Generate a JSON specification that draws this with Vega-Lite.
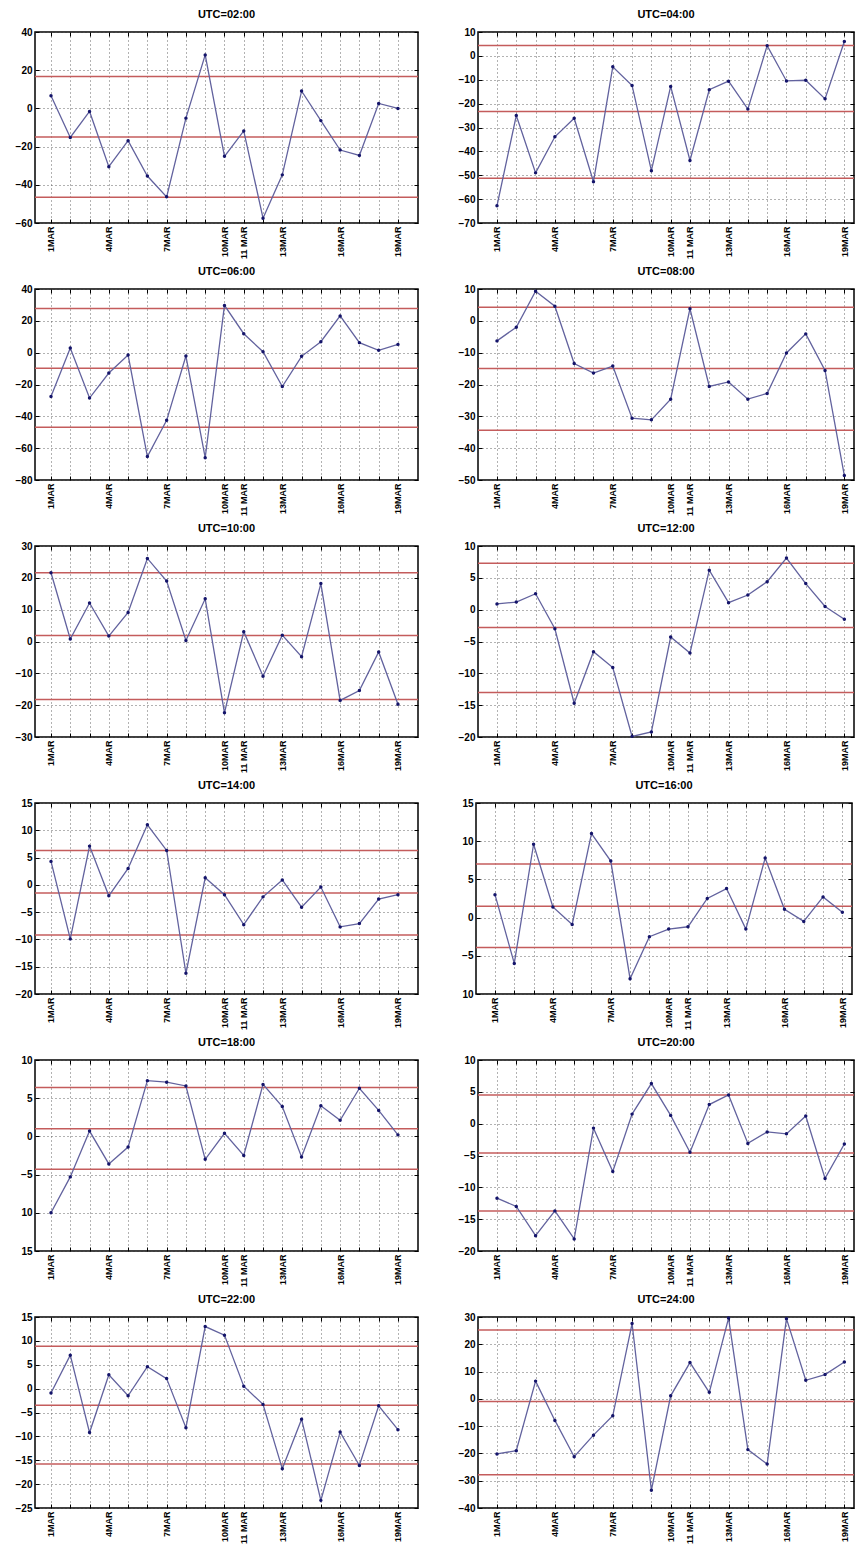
{
"$schema":"https://vega.github.io/schema/vega-lite/v6.json",
"background":"white",
"padding":{"left":14,"top":8,"right":0,"bottom":0},
"datasets":{
"pts":[
{"p":"02","d":1,"v":6.6},{"p":"02","d":2,"v":-15.2},{"p":"02","d":3,"v":-1.6},{"p":"02","d":4,"v":-30.5},{"p":"02","d":5,"v":-16.9},{"p":"02","d":6,"v":-35.4},{"p":"02","d":7,"v":-46.3},{"p":"02","d":8,"v":-5.1},{"p":"02","d":9,"v":28.0},{"p":"02","d":10,"v":-25.1},{"p":"02","d":11,"v":-11.8},{"p":"02","d":12,"v":-57.5},{"p":"02","d":13,"v":-34.8},{"p":"02","d":14,"v":9.1},{"p":"02","d":15,"v":-6.4},{"p":"02","d":16,"v":-21.8},{"p":"02","d":17,"v":-24.6},{"p":"02","d":18,"v":2.6},{"p":"02","d":19,"v":0.0},
{"p":"04","d":1,"v":-62.8},{"p":"04","d":2,"v":-25},{"p":"04","d":3,"v":-49},{"p":"04","d":4,"v":-33.9},{"p":"04","d":5,"v":-26.1},{"p":"04","d":6,"v":-52.7},{"p":"04","d":7,"v":-4.6},{"p":"04","d":8,"v":-12.4},{"p":"04","d":9,"v":-48.1},{"p":"04","d":10,"v":-12.8},{"p":"04","d":11,"v":-43.8},{"p":"04","d":12,"v":-14.2},{"p":"04","d":13,"v":-10.6},{"p":"04","d":14,"v":-22.3},{"p":"04","d":15,"v":4.3},{"p":"04","d":16,"v":-10.5},{"p":"04","d":17,"v":-10.2},{"p":"04","d":18,"v":-18},{"p":"04","d":19,"v":6},
{"p":"06","d":1,"v":-27.6},{"p":"06","d":2,"v":2.9},{"p":"06","d":3,"v":-28.5},{"p":"06","d":4,"v":-12.8},{"p":"06","d":5,"v":-1.5},{"p":"06","d":6,"v":-65.3},{"p":"06","d":7,"v":-42.5},{"p":"06","d":8,"v":-2.1},{"p":"06","d":9,"v":-66},{"p":"06","d":10,"v":29.7},{"p":"06","d":11,"v":11.9},{"p":"06","d":12,"v":0.6},{"p":"06","d":13,"v":-21.3},{"p":"06","d":14,"v":-2.3},{"p":"06","d":15,"v":6.9},{"p":"06","d":16,"v":23.1},{"p":"06","d":17,"v":6.3},{"p":"06","d":18,"v":1.5},{"p":"06","d":19,"v":5.2},
{"p":"08","d":1,"v":-6.3},{"p":"08","d":2,"v":-2},{"p":"08","d":3,"v":9.3},{"p":"08","d":4,"v":4.6},{"p":"08","d":5,"v":-13.4},{"p":"08","d":6,"v":-16.4},{"p":"08","d":7,"v":-14.2},{"p":"08","d":8,"v":-30.6},{"p":"08","d":9,"v":-31.1},{"p":"08","d":10,"v":-24.6},{"p":"08","d":11,"v":3.8},{"p":"08","d":12,"v":-20.6},{"p":"08","d":13,"v":-19.2},{"p":"08","d":14,"v":-24.6},{"p":"08","d":15,"v":-22.8},{"p":"08","d":16,"v":-10.1},{"p":"08","d":17,"v":-4.1},{"p":"08","d":18,"v":-15.6},{"p":"08","d":19,"v":-48.6},
{"p":"10","d":1,"v":21.6},{"p":"10","d":2,"v":0.8},{"p":"10","d":3,"v":12.1},{"p":"10","d":4,"v":1.7},{"p":"10","d":5,"v":9.1},{"p":"10","d":6,"v":26.1},{"p":"10","d":7,"v":19},{"p":"10","d":8,"v":0.3},{"p":"10","d":9,"v":13.4},{"p":"10","d":10,"v":-22.4},{"p":"10","d":11,"v":3.1},{"p":"10","d":12,"v":-10.9},{"p":"10","d":13,"v":2},{"p":"10","d":14,"v":-4.8},{"p":"10","d":15,"v":18.2},{"p":"10","d":16,"v":-18.5},{"p":"10","d":17,"v":-15.4},{"p":"10","d":18,"v":-3.3},{"p":"10","d":19,"v":-19.7},
{"p":"12","d":1,"v":0.9},{"p":"12","d":2,"v":1.2},{"p":"12","d":3,"v":2.5},{"p":"12","d":4,"v":-3},{"p":"12","d":5,"v":-14.7},{"p":"12","d":6,"v":-6.6},{"p":"12","d":7,"v":-9.1},{"p":"12","d":8,"v":-19.9},{"p":"12","d":9,"v":-19.2},{"p":"12","d":10,"v":-4.3},{"p":"12","d":11,"v":-6.8},{"p":"12","d":12,"v":6.2},{"p":"12","d":13,"v":1.1},{"p":"12","d":14,"v":2.3},{"p":"12","d":15,"v":4.4},{"p":"12","d":16,"v":8.1},{"p":"12","d":17,"v":4.1},{"p":"12","d":18,"v":0.5},{"p":"12","d":19,"v":-1.5},
{"p":"14","d":1,"v":4.3},{"p":"14","d":2,"v":-9.9},{"p":"14","d":3,"v":7.1},{"p":"14","d":4,"v":-2},{"p":"14","d":5,"v":3},{"p":"14","d":6,"v":11},{"p":"14","d":7,"v":6.3},{"p":"14","d":8,"v":-16.2},{"p":"14","d":9,"v":1.3},{"p":"14","d":10,"v":-1.8},{"p":"14","d":11,"v":-7.3},{"p":"14","d":12,"v":-2.2},{"p":"14","d":13,"v":0.9},{"p":"14","d":14,"v":-4.1},{"p":"14","d":15,"v":-0.4},{"p":"14","d":16,"v":-7.7},{"p":"14","d":17,"v":-7.1},{"p":"14","d":18,"v":-2.6},{"p":"14","d":19,"v":-1.8},
{"p":"16","d":1,"v":3},{"p":"16","d":2,"v":-6},{"p":"16","d":3,"v":9.6},{"p":"16","d":4,"v":1.4},{"p":"16","d":5,"v":-0.9},{"p":"16","d":6,"v":11},{"p":"16","d":7,"v":7.4},{"p":"16","d":8,"v":-8},{"p":"16","d":9,"v":-2.5},{"p":"16","d":10,"v":-1.5},{"p":"16","d":11,"v":-1.2},{"p":"16","d":12,"v":2.5},{"p":"16","d":13,"v":3.8},{"p":"16","d":14,"v":-1.5},{"p":"16","d":15,"v":7.8},{"p":"16","d":16,"v":1.1},{"p":"16","d":17,"v":-0.5},{"p":"16","d":18,"v":2.7},{"p":"16","d":19,"v":0.7},
{"p":"18","d":1,"v":-10},{"p":"18","d":2,"v":-5.3},{"p":"18","d":3,"v":0.7},{"p":"18","d":4,"v":-3.6},{"p":"18","d":5,"v":-1.4},{"p":"18","d":6,"v":7.3},{"p":"18","d":7,"v":7.1},{"p":"18","d":8,"v":6.6},{"p":"18","d":9,"v":-3},{"p":"18","d":10,"v":0.4},{"p":"18","d":11,"v":-2.5},{"p":"18","d":12,"v":6.8},{"p":"18","d":13,"v":3.9},{"p":"18","d":14,"v":-2.7},{"p":"18","d":15,"v":4},{"p":"18","d":16,"v":2.1},{"p":"18","d":17,"v":6.3},{"p":"18","d":18,"v":3.4},{"p":"18","d":19,"v":0.2},
{"p":"20","d":1,"v":-11.7},{"p":"20","d":2,"v":-13},{"p":"20","d":3,"v":-17.6},{"p":"20","d":4,"v":-13.7},{"p":"20","d":5,"v":-18.1},{"p":"20","d":6,"v":-0.7},{"p":"20","d":7,"v":-7.5},{"p":"20","d":8,"v":1.5},{"p":"20","d":9,"v":6.3},{"p":"20","d":10,"v":1.3},{"p":"20","d":11,"v":-4.5},{"p":"20","d":12,"v":3},{"p":"20","d":13,"v":4.5},{"p":"20","d":14,"v":-3.1},{"p":"20","d":15,"v":-1.3},{"p":"20","d":16,"v":-1.6},{"p":"20","d":17,"v":1.2},{"p":"20","d":18,"v":-8.6},{"p":"20","d":19,"v":-3.2},
{"p":"22","d":1,"v":-0.9},{"p":"22","d":2,"v":7},{"p":"22","d":3,"v":-9.2},{"p":"22","d":4,"v":2.9},{"p":"22","d":5,"v":-1.5},{"p":"22","d":6,"v":4.6},{"p":"22","d":7,"v":2.1},{"p":"22","d":8,"v":-8.2},{"p":"22","d":9,"v":13},{"p":"22","d":10,"v":11.2},{"p":"22","d":11,"v":0.5},{"p":"22","d":12,"v":-3.3},{"p":"22","d":13,"v":-16.8},{"p":"22","d":14,"v":-6.4},{"p":"22","d":15,"v":-23.4},{"p":"22","d":16,"v":-9.1},{"p":"22","d":17,"v":-16.1},{"p":"22","d":18,"v":-3.6},{"p":"22","d":19,"v":-8.6},
{"p":"24","d":1,"v":-20.2},{"p":"24","d":2,"v":-19},{"p":"24","d":3,"v":6.5},{"p":"24","d":4,"v":-7.9},{"p":"24","d":5,"v":-21.2},{"p":"24","d":6,"v":-13.3},{"p":"24","d":7,"v":-6.2},{"p":"24","d":8,"v":27.6},{"p":"24","d":9,"v":-33.5},{"p":"24","d":10,"v":1.1},{"p":"24","d":11,"v":13.3},{"p":"24","d":12,"v":2.4},{"p":"24","d":13,"v":29.6},{"p":"24","d":14,"v":-18.6},{"p":"24","d":15,"v":-23.9},{"p":"24","d":16,"v":29.4},{"p":"24","d":17,"v":6.8},{"p":"24","d":18,"v":8.9},{"p":"24","d":19,"v":13.5}
],
"lv":[
{"p":"02","v":16.7},{"p":"02","v":-15},{"p":"02","v":-46.5},
{"p":"04","v":4.3},{"p":"04","v":-23.3},{"p":"04","v":-51.3},
{"p":"06","v":27.8},{"p":"06","v":-9.8},{"p":"06","v":-46.9},
{"p":"08","v":4.3},{"p":"08","v":-15.0},{"p":"08","v":-34.4},
{"p":"10","v":21.6},{"p":"10","v":1.9},{"p":"10","v":-18.2},
{"p":"12","v":7.3},{"p":"12","v":-2.8},{"p":"12","v":-13.0},
{"p":"14","v":6.3},{"p":"14","v":-1.5},{"p":"14","v":-9.2},
{"p":"16","v":7.0},{"p":"16","v":1.5},{"p":"16","v":-3.9},
{"p":"18","v":6.4},{"p":"18","v":1.0},{"p":"18","v":-4.3},
{"p":"20","v":4.5},{"p":"20","v":-4.6},{"p":"20","v":-13.7},
{"p":"22","v":8.9},{"p":"22","v":-3.5},{"p":"22","v":-15.8},
{"p":"24","v":25.2},{"p":"24","v":-1.0},{"p":"24","v":-27.8}
]
},
"config":{
"view":{"stroke":"#000","strokeWidth":1.5},
"font":"Liberation Sans",
"axis":{"domain":false,"labelFont":"Liberation Sans","labelFontWeight":"bold","labelColor":"#000","tickColor":"#000","tickSize":-4,"labelPadding":7,"gridColor":"#555","gridDash":[1,3],"gridOpacity":0.9,"title":null,"labelFlush":false},
"title":{"fontSize":11,"fontWeight":"bold","font":"Liberation Sans","offset":7,"color":"#000"},
"line":{"color":"#62629e","strokeWidth":1.3},
"point":{"filled":true,"color":"#14146a","size":12,"opacity":1},
"rule":{"color":"#c45c5c","strokeWidth":1.5}
},
"vconcat":[
{"hconcat":[
{"width":383,"height":191,"title":"UTC=02:00","resolve":{"axis":{"x":"independent","y":"independent"}},"layer":[
{"data":{"name":"lv"},"transform":[{"filter":"datum.p=='02'"}],"mark":"rule","encoding":{"y":{"field":"v","type":"quantitative","scale":{"domain":[-60,40],"nice":false,"zero":false},"axis":null}}},
{"data":{"name":"pts"},"transform":[{"filter":"datum.p=='02'"}],"mark":"line","encoding":{"x":{"field":"d","type":"quantitative","scale":{"domain":[0.17,20.04],"nice":false,"zero":false},"axis":{"values":[1,2,3,4,5,6,7,8,9,10,11,12,13,14,15,16,17,18,19],"grid":true,"labelAngle":-90,"labelFontSize":9,"labelOverlap":false,"labelExpr":"datum.value == 11 ? '11 MAR' : (indexof([1,4,7,10,13,16,19], datum.value) >= 0 ? datum.value + 'MAR' : '')"}},"y":{"field":"v","type":"quantitative","axis":{"values":[-60,-40,-20,0,20,40],"grid":true,"labelFontSize":10,"minExtent":18}}}},
{"data":{"name":"pts"},"transform":[{"filter":"datum.p=='02'"}],"mark":"point","encoding":{"x":{"field":"d","type":"quantitative","axis":{"orient":"top","values":[1,2,3,4,5,6,7,8,9,10,11,12,13,14,15,16,17,18,19],"labels":false,"grid":false,"minExtent":0}},"y":{"field":"v","type":"quantitative","axis":{"orient":"right","values":[-60,-40,-20,0,20,40],"labels":false,"grid":false,"minExtent":0}}}}
]},
{"width":376,"height":191,"title":"UTC=04:00","resolve":{"axis":{"x":"independent","y":"independent"}},"layer":[
{"data":{"name":"lv"},"transform":[{"filter":"datum.p=='04'"}],"mark":"rule","encoding":{"y":{"field":"v","type":"quantitative","scale":{"domain":[-70,10],"nice":false,"zero":false},"axis":null}}},
{"data":{"name":"pts"},"transform":[{"filter":"datum.p=='04'"}],"mark":"line","encoding":{"x":{"field":"d","type":"quantitative","scale":{"domain":[0.016,19.5],"nice":false,"zero":false},"axis":{"values":[1,2,3,4,5,6,7,8,9,10,11,12,13,14,15,16,17,18,19],"grid":true,"labelAngle":-90,"labelFontSize":9,"labelOverlap":false,"labelExpr":"datum.value == 11 ? '11 MAR' : (indexof([1,4,7,10,13,16,19], datum.value) >= 0 ? datum.value + 'MAR' : '')"}},"y":{"field":"v","type":"quantitative","axis":{"values":[-70,-60,-50,-40,-30,-20,-10,0,10],"grid":true,"labelFontSize":10,"minExtent":18}}}},
{"data":{"name":"pts"},"transform":[{"filter":"datum.p=='04'"}],"mark":"point","encoding":{"x":{"field":"d","type":"quantitative","axis":{"orient":"top","values":[1,2,3,4,5,6,7,8,9,10,11,12,13,14,15,16,17,18,19],"labels":false,"grid":false,"minExtent":0}},"y":{"field":"v","type":"quantitative","axis":{"orient":"right","values":[-70,-60,-50,-40,-30,-20,-10,0,10],"labels":false,"grid":false,"minExtent":0}}}}
]}
],"spacing":37},
{"hconcat":[
{"width":383,"height":191,"title":"UTC=06:00","resolve":{"axis":{"x":"independent","y":"independent"}},"layer":[
{"data":{"name":"lv"},"transform":[{"filter":"datum.p=='06'"}],"mark":"rule","encoding":{"y":{"field":"v","type":"quantitative","scale":{"domain":[-80,40],"nice":false,"zero":false},"axis":null}}},
{"data":{"name":"pts"},"transform":[{"filter":"datum.p=='06'"}],"mark":"line","encoding":{"x":{"field":"d","type":"quantitative","scale":{"domain":[0.17,20.04],"nice":false,"zero":false},"axis":{"values":[1,2,3,4,5,6,7,8,9,10,11,12,13,14,15,16,17,18,19],"grid":true,"labelAngle":-90,"labelFontSize":9,"labelOverlap":false,"labelExpr":"datum.value == 11 ? '11 MAR' : (indexof([1,4,7,10,13,16,19], datum.value) >= 0 ? datum.value + 'MAR' : '')"}},"y":{"field":"v","type":"quantitative","axis":{"values":[-80,-60,-40,-20,0,20,40],"grid":true,"labelFontSize":10,"minExtent":18}}}},
{"data":{"name":"pts"},"transform":[{"filter":"datum.p=='06'"}],"mark":"point","encoding":{"x":{"field":"d","type":"quantitative","axis":{"orient":"top","values":[1,2,3,4,5,6,7,8,9,10,11,12,13,14,15,16,17,18,19],"labels":false,"grid":false,"minExtent":0}},"y":{"field":"v","type":"quantitative","axis":{"orient":"right","values":[-80,-60,-40,-20,0,20,40],"labels":false,"grid":false,"minExtent":0}}}}
]},
{"width":376,"height":191,"title":"UTC=08:00","resolve":{"axis":{"x":"independent","y":"independent"}},"layer":[
{"data":{"name":"lv"},"transform":[{"filter":"datum.p=='08'"}],"mark":"rule","encoding":{"y":{"field":"v","type":"quantitative","scale":{"domain":[-50,10],"nice":false,"zero":false},"axis":null}}},
{"data":{"name":"pts"},"transform":[{"filter":"datum.p=='08'"}],"mark":"line","encoding":{"x":{"field":"d","type":"quantitative","scale":{"domain":[0.016,19.5],"nice":false,"zero":false},"axis":{"values":[1,2,3,4,5,6,7,8,9,10,11,12,13,14,15,16,17,18,19],"grid":true,"labelAngle":-90,"labelFontSize":9,"labelOverlap":false,"labelExpr":"datum.value == 11 ? '11 MAR' : (indexof([1,4,7,10,13,16,19], datum.value) >= 0 ? datum.value + 'MAR' : '')"}},"y":{"field":"v","type":"quantitative","axis":{"values":[-50,-40,-30,-20,-10,0,10],"grid":true,"labelFontSize":10,"minExtent":18}}}},
{"data":{"name":"pts"},"transform":[{"filter":"datum.p=='08'"}],"mark":"point","encoding":{"x":{"field":"d","type":"quantitative","axis":{"orient":"top","values":[1,2,3,4,5,6,7,8,9,10,11,12,13,14,15,16,17,18,19],"labels":false,"grid":false,"minExtent":0}},"y":{"field":"v","type":"quantitative","axis":{"orient":"right","values":[-50,-40,-30,-20,-10,0,10],"labels":false,"grid":false,"minExtent":0}}}}
]}
],"spacing":37},
{"hconcat":[
{"width":383,"height":191,"title":"UTC=10:00","resolve":{"axis":{"x":"independent","y":"independent"}},"layer":[
{"data":{"name":"lv"},"transform":[{"filter":"datum.p=='10'"}],"mark":"rule","encoding":{"y":{"field":"v","type":"quantitative","scale":{"domain":[-30,30],"nice":false,"zero":false},"axis":null}}},
{"data":{"name":"pts"},"transform":[{"filter":"datum.p=='10'"}],"mark":"line","encoding":{"x":{"field":"d","type":"quantitative","scale":{"domain":[0.17,20.04],"nice":false,"zero":false},"axis":{"values":[1,2,3,4,5,6,7,8,9,10,11,12,13,14,15,16,17,18,19],"grid":true,"labelAngle":-90,"labelFontSize":9,"labelOverlap":false,"labelExpr":"datum.value == 11 ? '11 MAR' : (indexof([1,4,7,10,13,16,19], datum.value) >= 0 ? datum.value + 'MAR' : '')"}},"y":{"field":"v","type":"quantitative","axis":{"values":[-30,-20,-10,0,10,20,30],"grid":true,"labelFontSize":10,"minExtent":18}}}},
{"data":{"name":"pts"},"transform":[{"filter":"datum.p=='10'"}],"mark":"point","encoding":{"x":{"field":"d","type":"quantitative","axis":{"orient":"top","values":[1,2,3,4,5,6,7,8,9,10,11,12,13,14,15,16,17,18,19],"labels":false,"grid":false,"minExtent":0}},"y":{"field":"v","type":"quantitative","axis":{"orient":"right","values":[-30,-20,-10,0,10,20,30],"labels":false,"grid":false,"minExtent":0}}}}
]},
{"width":376,"height":191,"title":"UTC=12:00","resolve":{"axis":{"x":"independent","y":"independent"}},"layer":[
{"data":{"name":"lv"},"transform":[{"filter":"datum.p=='12'"}],"mark":"rule","encoding":{"y":{"field":"v","type":"quantitative","scale":{"domain":[-20,10],"nice":false,"zero":false},"axis":null}}},
{"data":{"name":"pts"},"transform":[{"filter":"datum.p=='12'"}],"mark":"line","encoding":{"x":{"field":"d","type":"quantitative","scale":{"domain":[0.016,19.5],"nice":false,"zero":false},"axis":{"values":[1,2,3,4,5,6,7,8,9,10,11,12,13,14,15,16,17,18,19],"grid":true,"labelAngle":-90,"labelFontSize":9,"labelOverlap":false,"labelExpr":"datum.value == 11 ? '11 MAR' : (indexof([1,4,7,10,13,16,19], datum.value) >= 0 ? datum.value + 'MAR' : '')"}},"y":{"field":"v","type":"quantitative","axis":{"values":[-20,-15,-10,-5,0,5,10],"grid":true,"labelFontSize":10,"minExtent":18}}}},
{"data":{"name":"pts"},"transform":[{"filter":"datum.p=='12'"}],"mark":"point","encoding":{"x":{"field":"d","type":"quantitative","axis":{"orient":"top","values":[1,2,3,4,5,6,7,8,9,10,11,12,13,14,15,16,17,18,19],"labels":false,"grid":false,"minExtent":0}},"y":{"field":"v","type":"quantitative","axis":{"orient":"right","values":[-20,-15,-10,-5,0,5,10],"labels":false,"grid":false,"minExtent":0}}}}
]}
],"spacing":37},
{"hconcat":[
{"width":383,"height":191,"title":"UTC=14:00","resolve":{"axis":{"x":"independent","y":"independent"}},"layer":[
{"data":{"name":"lv"},"transform":[{"filter":"datum.p=='14'"}],"mark":"rule","encoding":{"y":{"field":"v","type":"quantitative","scale":{"domain":[-20,15],"nice":false,"zero":false},"axis":null}}},
{"data":{"name":"pts"},"transform":[{"filter":"datum.p=='14'"}],"mark":"line","encoding":{"x":{"field":"d","type":"quantitative","scale":{"domain":[0.17,20.04],"nice":false,"zero":false},"axis":{"values":[1,2,3,4,5,6,7,8,9,10,11,12,13,14,15,16,17,18,19],"grid":true,"labelAngle":-90,"labelFontSize":9,"labelOverlap":false,"labelExpr":"datum.value == 11 ? '11 MAR' : (indexof([1,4,7,10,13,16,19], datum.value) >= 0 ? datum.value + 'MAR' : '')"}},"y":{"field":"v","type":"quantitative","axis":{"values":[-20,-15,-10,-5,0,5,10,15],"grid":true,"labelFontSize":10,"minExtent":18}}}},
{"data":{"name":"pts"},"transform":[{"filter":"datum.p=='14'"}],"mark":"point","encoding":{"x":{"field":"d","type":"quantitative","axis":{"orient":"top","values":[1,2,3,4,5,6,7,8,9,10,11,12,13,14,15,16,17,18,19],"labels":false,"grid":false,"minExtent":0}},"y":{"field":"v","type":"quantitative","axis":{"orient":"right","values":[-20,-15,-10,-5,0,5,10,15],"labels":false,"grid":false,"minExtent":0}}}}
]},
{"width":376,"height":191,"title":"UTC=16:00","resolve":{"axis":{"x":"independent","y":"independent"}},"layer":[
{"data":{"name":"lv"},"transform":[{"filter":"datum.p=='16'"}],"mark":"rule","encoding":{"y":{"field":"v","type":"quantitative","scale":{"domain":[-10,15],"nice":false,"zero":false},"axis":null}}},
{"data":{"name":"pts"},"transform":[{"filter":"datum.p=='16'"}],"mark":"line","encoding":{"x":{"field":"d","type":"quantitative","scale":{"domain":[0.016,19.5],"nice":false,"zero":false},"axis":{"values":[1,2,3,4,5,6,7,8,9,10,11,12,13,14,15,16,17,18,19],"grid":true,"labelAngle":-90,"labelFontSize":9,"labelOverlap":false,"labelExpr":"datum.value == 11 ? '11 MAR' : (indexof([1,4,7,10,13,16,19], datum.value) >= 0 ? datum.value + 'MAR' : '')"}},"y":{"field":"v","type":"quantitative","axis":{"values":[-10,-5,0,5,10,15],"grid":true,"labelFontSize":10,"minExtent":18,"labelExpr":"datum.value == -10 ? '10' : datum.label"}}}},
{"data":{"name":"pts"},"transform":[{"filter":"datum.p=='16'"}],"mark":"point","encoding":{"x":{"field":"d","type":"quantitative","axis":{"orient":"top","values":[1,2,3,4,5,6,7,8,9,10,11,12,13,14,15,16,17,18,19],"labels":false,"grid":false,"minExtent":0}},"y":{"field":"v","type":"quantitative","axis":{"orient":"right","values":[-10,-5,0,5,10,15],"labels":false,"grid":false,"minExtent":0}}}}
]}
],"spacing":37},
{"hconcat":[
{"width":383,"height":191,"title":"UTC=18:00","resolve":{"axis":{"x":"independent","y":"independent"}},"layer":[
{"data":{"name":"lv"},"transform":[{"filter":"datum.p=='18'"}],"mark":"rule","encoding":{"y":{"field":"v","type":"quantitative","scale":{"domain":[-15,10],"nice":false,"zero":false},"axis":null}}},
{"data":{"name":"pts"},"transform":[{"filter":"datum.p=='18'"}],"mark":"line","encoding":{"x":{"field":"d","type":"quantitative","scale":{"domain":[0.17,20.04],"nice":false,"zero":false},"axis":{"values":[1,2,3,4,5,6,7,8,9,10,11,12,13,14,15,16,17,18,19],"grid":true,"labelAngle":-90,"labelFontSize":9,"labelOverlap":false,"labelExpr":"datum.value == 11 ? '11 MAR' : (indexof([1,4,7,10,13,16,19], datum.value) >= 0 ? datum.value + 'MAR' : '')"}},"y":{"field":"v","type":"quantitative","axis":{"values":[-15,-10,-5,0,5,10],"grid":true,"labelFontSize":10,"minExtent":18,"labelExpr":"datum.value < -5 ? format(-datum.value, 'd') : datum.label"}}}},
{"data":{"name":"pts"},"transform":[{"filter":"datum.p=='18'"}],"mark":"point","encoding":{"x":{"field":"d","type":"quantitative","axis":{"orient":"top","values":[1,2,3,4,5,6,7,8,9,10,11,12,13,14,15,16,17,18,19],"labels":false,"grid":false,"minExtent":0}},"y":{"field":"v","type":"quantitative","axis":{"orient":"right","values":[-15,-10,-5,0,5,10],"labels":false,"grid":false,"minExtent":0}}}}
]},
{"width":376,"height":191,"title":"UTC=20:00","resolve":{"axis":{"x":"independent","y":"independent"}},"layer":[
{"data":{"name":"lv"},"transform":[{"filter":"datum.p=='20'"}],"mark":"rule","encoding":{"y":{"field":"v","type":"quantitative","scale":{"domain":[-20,10],"nice":false,"zero":false},"axis":null}}},
{"data":{"name":"pts"},"transform":[{"filter":"datum.p=='20'"}],"mark":"line","encoding":{"x":{"field":"d","type":"quantitative","scale":{"domain":[0.016,19.5],"nice":false,"zero":false},"axis":{"values":[1,2,3,4,5,6,7,8,9,10,11,12,13,14,15,16,17,18,19],"grid":true,"labelAngle":-90,"labelFontSize":9,"labelOverlap":false,"labelExpr":"datum.value == 11 ? '11 MAR' : (indexof([1,4,7,10,13,16,19], datum.value) >= 0 ? datum.value + 'MAR' : '')"}},"y":{"field":"v","type":"quantitative","axis":{"values":[-20,-15,-10,-5,0,5,10],"grid":true,"labelFontSize":10,"minExtent":18}}}},
{"data":{"name":"pts"},"transform":[{"filter":"datum.p=='20'"}],"mark":"point","encoding":{"x":{"field":"d","type":"quantitative","axis":{"orient":"top","values":[1,2,3,4,5,6,7,8,9,10,11,12,13,14,15,16,17,18,19],"labels":false,"grid":false,"minExtent":0}},"y":{"field":"v","type":"quantitative","axis":{"orient":"right","values":[-20,-15,-10,-5,0,5,10],"labels":false,"grid":false,"minExtent":0}}}}
]}
],"spacing":37},
{"hconcat":[
{"width":383,"height":191,"title":"UTC=22:00","resolve":{"axis":{"x":"independent","y":"independent"}},"layer":[
{"data":{"name":"lv"},"transform":[{"filter":"datum.p=='22'"}],"mark":"rule","encoding":{"y":{"field":"v","type":"quantitative","scale":{"domain":[-25,15],"nice":false,"zero":false},"axis":null}}},
{"data":{"name":"pts"},"transform":[{"filter":"datum.p=='22'"}],"mark":"line","encoding":{"x":{"field":"d","type":"quantitative","scale":{"domain":[0.17,20.04],"nice":false,"zero":false},"axis":{"values":[1,2,3,4,5,6,7,8,9,10,11,12,13,14,15,16,17,18,19],"grid":true,"labelAngle":-90,"labelFontSize":9,"labelOverlap":false,"labelExpr":"datum.value == 11 ? '11 MAR' : (indexof([1,4,7,10,13,16,19], datum.value) >= 0 ? datum.value + 'MAR' : '')"}},"y":{"field":"v","type":"quantitative","axis":{"values":[-25,-20,-15,-10,-5,0,5,10,15],"grid":true,"labelFontSize":10,"minExtent":18}}}},
{"data":{"name":"pts"},"transform":[{"filter":"datum.p=='22'"}],"mark":"point","encoding":{"x":{"field":"d","type":"quantitative","axis":{"orient":"top","values":[1,2,3,4,5,6,7,8,9,10,11,12,13,14,15,16,17,18,19],"labels":false,"grid":false,"minExtent":0}},"y":{"field":"v","type":"quantitative","axis":{"orient":"right","values":[-25,-20,-15,-10,-5,0,5,10,15],"labels":false,"grid":false,"minExtent":0}}}}
]},
{"width":376,"height":191,"title":"UTC=24:00","resolve":{"axis":{"x":"independent","y":"independent"}},"layer":[
{"data":{"name":"lv"},"transform":[{"filter":"datum.p=='24'"}],"mark":"rule","encoding":{"y":{"field":"v","type":"quantitative","scale":{"domain":[-40,30],"nice":false,"zero":false},"axis":null}}},
{"data":{"name":"pts"},"transform":[{"filter":"datum.p=='24'"}],"mark":"line","encoding":{"x":{"field":"d","type":"quantitative","scale":{"domain":[0.016,19.5],"nice":false,"zero":false},"axis":{"values":[1,2,3,4,5,6,7,8,9,10,11,12,13,14,15,16,17,18,19],"grid":true,"labelAngle":-90,"labelFontSize":9,"labelOverlap":false,"labelExpr":"datum.value == 11 ? '11 MAR' : (indexof([1,4,7,10,13,16,19], datum.value) >= 0 ? datum.value + 'MAR' : '')"}},"y":{"field":"v","type":"quantitative","axis":{"values":[-40,-30,-20,-10,0,10,20,30],"grid":true,"labelFontSize":10,"minExtent":18}}}},
{"data":{"name":"pts"},"transform":[{"filter":"datum.p=='24'"}],"mark":"point","encoding":{"x":{"field":"d","type":"quantitative","axis":{"orient":"top","values":[1,2,3,4,5,6,7,8,9,10,11,12,13,14,15,16,17,18,19],"labels":false,"grid":false,"minExtent":0}},"y":{"field":"v","type":"quantitative","axis":{"orient":"right","values":[-40,-30,-20,-10,0,10,20,30],"labels":false,"grid":false,"minExtent":0}}}}
]}
],"spacing":37}
],
"spacing":5
}
